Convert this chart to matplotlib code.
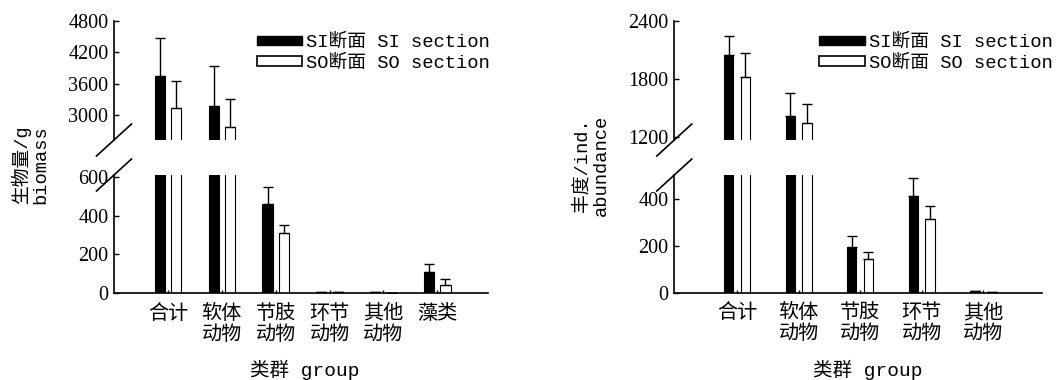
import matplotlib
matplotlib.use("Agg")
import matplotlib.pyplot as plt
import numpy as np
from matplotlib.patches import Patch
from matplotlib.lines import Line2D

# ---------------- data ----------------
bio_cats = ["合计", "软体\n动物", "节肢\n动物", "环节\n动物", "其他\n动物", "藻类"]
bio_si = [3750, 3170, 460, 5, 5, 110]
bio_si_err = [720, 770, 90, 0, 0, 40]
bio_so = [3130, 2770, 310, 3, 2, 40]
bio_so_err = [520, 540, 40, 0, 0, 34]

abu_cats = ["合计", "软体\n动物", "节肢\n动物", "环节\n动物", "其他\n动物"]
abu_si = [2050, 1410, 195, 410, 8]
abu_si_err = [195, 245, 45, 77, 0]
abu_so = [1820, 1340, 145, 315, 3]
abu_so_err = [245, 200, 30, 54, 0]

legend_labels = ["SI断面 SI section", "SO断面 SO section"]
xlabel = "类群 group"
ylabel_bio = "生物量/g\nbiomass"
ylabel_abu = "丰度/ind.\nabundance"

bio_upper_ticks = [3000, 3600, 4200, 4800]
bio_lower_ticks = [0, 200, 400, 600]
abu_upper_ticks = [1200, 1800, 2400]
abu_lower_ticks = [0, 200, 400]

# ---------------- style ----------------
W, H = 1057, 380
LATIN_CJK = ["Liberation Mono", "Noto Sans CJK SC"]
CJK = ["Noto Sans CJK SC", "DejaVu Sans"]
NUM = ["Liberation Serif", "DejaVu Serif"]

fig = plt.figure(figsize=(W / 100, H / 100), dpi=100)


def fx(px):
    return px / W


def fy(py):
    return 1 - py / H


def make_panel(x0, x1, up_top, up_bot, lo_top, lo_bot, up_lim, lo_lim,
               cats, si, si_err, so, so_err, up_ticks, lo_ticks,
               xlim, off, bw, ylabel, ylab_x, xlab_x, leg_x):
    axu = fig.add_axes([fx(x0), fy(up_bot), fx(x1) - fx(x0), fy(up_top) - fy(up_bot)])
    axl = fig.add_axes([fx(x0), fy(lo_bot), fx(x1) - fx(x0), fy(lo_top) - fy(lo_bot)])
    x = np.arange(len(cats))
    for ax in (axu, axl):
        ax.bar(x - off, si, bw, color="black", edgecolor="black", linewidth=0.8,
               yerr=[np.zeros(len(si)), si_err], capsize=3.5,
               error_kw=dict(ecolor="black", elinewidth=1.0, capthick=1.0), zorder=2)
        ax.bar(x + off, so, bw, color="white", edgecolor="black", linewidth=0.8,
               yerr=[np.zeros(len(so)), so_err], capsize=3.5,
               error_kw=dict(ecolor="black", elinewidth=1.0, capthick=1.0), zorder=2)
        ax.set_xlim(*xlim)
        ax.set_facecolor("none")
        for s in ("top", "right"):
            ax.spines[s].set_visible(False)
        ax.spines["left"].set_linewidth(1.2)
        ax.spines["bottom"].set_linewidth(1.2)
        ax.tick_params(axis="y", direction="in", length=3.5, width=1.0, pad=4)
    axu.set_ylim(*up_lim)
    axl.set_ylim(*lo_lim)
    axu.spines["bottom"].set_visible(False)
    axu.set_xticks([])
    axu.set_yticks(up_ticks)
    axl.set_yticks(lo_ticks)
    axl.set_xticks(x)
    axl.set_xticklabels(cats, fontfamily=CJK, fontsize=14.5, linespacing=1.0,
                        va="top")
    axl.tick_params(axis="x", direction="in", length=2.5, width=1.0, pad=7)
    for ax in (axu, axl):
        for lab in ax.get_yticklabels():
            lab.set_fontfamily(NUM)
            lab.set_fontsize(14.5)

    # break marks on the left spine
    for py in (up_bot, lo_top):
        cx, cy = x0, py
        fig.add_artist(Line2D([fx(cx - 17.5), fx(cx + 17.5)],
                              [fy(cy + 16), fy(cy - 16)],
                              transform=fig.transFigure, color="black", lw=1.2))

    fig.text(fx(ylab_x), fy(165), ylabel, rotation=90, ha="center", va="center",
             multialignment="center", fontfamily=LATIN_CJK, fontsize=13.5,
             linespacing=1.15)
    fig.text(fx(xlab_x), fy(370), xlabel, ha="center", va="center",
             fontfamily=LATIN_CJK, fontsize=14)

    handles = [Patch(facecolor="black", edgecolor="black", linewidth=1.0),
               Patch(facecolor="white", edgecolor="black", linewidth=1.2)]
    axu.legend(handles, legend_labels, loc="upper left",
               bbox_to_anchor=(fx(leg_x), fy(34)), bbox_transform=fig.transFigure,
               frameon=False, borderpad=0, borderaxespad=0,
               handlelength=2.45, handleheight=0.42, handletextpad=0.2,
               labelspacing=0.18, prop=dict(family=LATIN_CJK, size=13.5))
    return axu, axl


make_panel(114, 488, 21, 140, 175, 293, (2520, 4800), (0, 610),
           bio_cats, bio_si, bio_si_err, bio_so, bio_so_err,
           bio_upper_ticks, bio_lower_ticks,
           (-1.0, 5.94), 0.15, 0.19, ylabel_bio, 30, 305, 256.5)

make_panel(674.3, 1041.7, 20.7, 140, 175, 292.7, (1165, 2400), (0, 500),
           abu_cats, abu_si, abu_si_err, abu_so, abu_so_err,
           abu_upper_ticks, abu_lower_ticks,
           (-1.02, 4.95), 0.135, 0.15, ylabel_abu, 591.5, 867.5, 819)

fig.savefig("out.png", dpi=100)
